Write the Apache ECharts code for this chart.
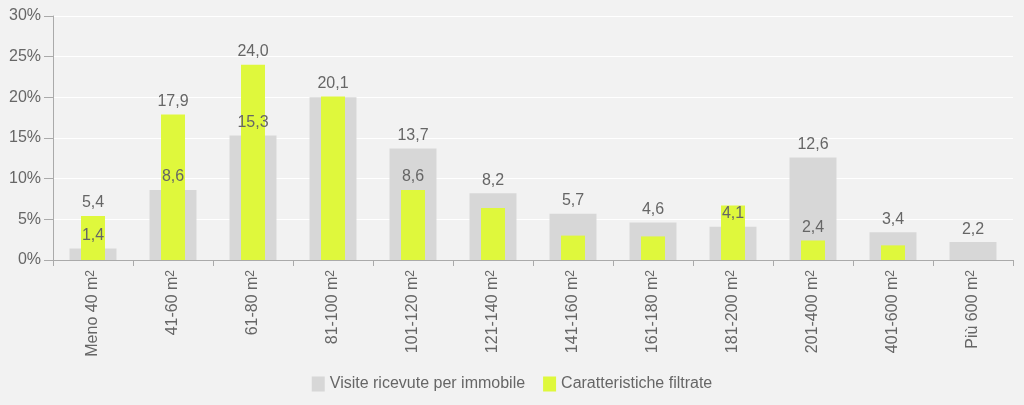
<!DOCTYPE html>
<html>
<head>
<meta charset="utf-8">
<script src="https://cdn.jsdelivr.net/npm/echarts@6/dist/echarts.min.js"></script>
<style>
html,body{margin:0;padding:0;background:#f2f2f2;}
#c{width:1024px;height:405px;}
</style>
</head>
<body>
<div id="c"></div>
<script>
var categories = ['Meno 40', '41-60', '61-80', '81-100', '101-120', '121-140', '141-160', '161-180', '181-200', '201-400', '401-600', 'Più 600'];
var seriesNames = ['Visite ricevute per immobile', 'Caratteristiche filtrate'];
var visiteValues = [1.4, 8.6, 15.3, 20.0, 13.7, 8.2, 5.7, 4.6, 4.1, 12.6, 3.4, 2.2];
var filtrateValues = [5.4, 17.9, 24.0, 20.1, 8.6, 6.4, 3.0, 2.9, 6.7, 2.4, 1.8, 0];
var visiteLabelShown = [true, true, true, false, true, true, true, true, true, true, true, true];
var filtrateLabelShown = [true, true, true, true, true, false, false, false, false, true, false, false];
var yTicks = [0, 5, 10, 15, 20, 25, 30];

var textColor = '#666666';
var fontFam = '"Liberation Sans", Arial, sans-serif';

function fmt(v) { return v.toFixed(1).replace('.', ','); }
function items(vals, shown) {
  return vals.map(function (v, i) { return { value: v, label: { show: shown[i] } }; });
}

var chart = echarts.init(document.getElementById('c'), null, { renderer: 'canvas' });
var labelCfg = {
  position: 'top', distance: 5, color: textColor, fontSize: 16, fontFamily: fontFam,
  formatter: function (p) { return fmt(p.value); }
};
chart.setOption({
  backgroundColor: '#f2f2f2',
  animation: false,
  textStyle: { fontFamily: fontFam },
  grid: { left: 53, right: 11, top: 16, bottom: 145, containLabel: false },
  legend: {
    data: seriesNames,
    top: 371,
    left: 'center',
    icon: 'rect',
    itemWidth: 13,
    itemHeight: 15,
    itemGap: 18,
    textStyle: { color: textColor, fontSize: 16, fontFamily: fontFam }
  },
  xAxis: [{
    type: 'category',
    data: categories,
    axisLine: { lineStyle: { color: '#aaaaaa' } },
    axisTick: { show: true, length: 6, lineStyle: { color: '#aaaaaa' } },
    axisLabel: {
      rotate: 90, margin: 10, color: textColor, fontSize: 16, fontFamily: fontFam,
      formatter: function (v) { return v + ' m{s|2}'; },
      rich: { s: { fontSize: 12, color: textColor, verticalAlign: 'top', lineHeight: 10, fontFamily: fontFam } }
    },
    splitLine: { show: false }
  }, {
    type: 'category',
    data: categories,
    show: false
  }],
  yAxis: {
    type: 'value',
    min: yTicks[0], max: yTicks[yTicks.length - 1], interval: 5,
    axisLine: { show: true, lineStyle: { color: '#aaaaaa' } },
    axisTick: { show: true, length: 9, lineStyle: { color: '#aaaaaa' } },
    axisLabel: { color: textColor, fontSize: 16, fontFamily: fontFam, margin: 12, formatter: '{value}%' },
    splitLine: { show: true, lineStyle: { color: '#ffffff', width: 1 } }
  },
  series: [{
    name: seriesNames[0],
    type: 'bar',
    xAxisIndex: 0,
    barWidth: 47,
    itemStyle: { color: '#d7d7d7' },
    label: labelCfg,
    z: 2,
    data: items(visiteValues, visiteLabelShown)
  }, {
    name: seriesNames[1],
    type: 'bar',
    xAxisIndex: 1,
    barWidth: 24,
    itemStyle: { color: '#dff83c' },
    label: labelCfg,
    z: 2,
    data: items(filtrateValues, filtrateLabelShown)
  }]
});
</script>
</body>
</html>
